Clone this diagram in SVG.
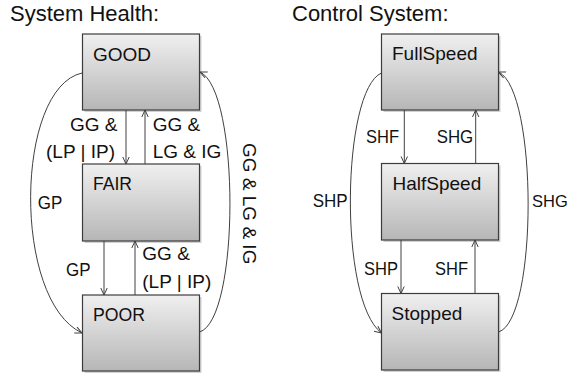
<svg xmlns="http://www.w3.org/2000/svg" width="570" height="377" viewBox="0 0 570 377">
<defs>
<linearGradient id="g" x1="0" y1="0" x2="0" y2="1">
<stop offset="0" stop-color="#f0f0f0"/>
<stop offset="1" stop-color="#b6b6b6"/>
</linearGradient>
<marker id="a" viewBox="0 0 8 8" refX="7.5" refY="4" markerWidth="8" markerHeight="8" markerUnits="userSpaceOnUse" orient="auto">
<path d="M0.5,0.8 L7.5,4 L0.5,7.2" fill="none" stroke="#404040" stroke-width="1"/>
</marker>
</defs>
<style>
text{font-family:"Liberation Sans",Arial,sans-serif;font-size:19px;fill:#111}
.t{font-size:22px}
.box{fill:url(#g);stroke:#3c3c3c;stroke-width:1.2}
.sh{fill:#000;opacity:0.18}
.c{fill:none;stroke:#404040;stroke-width:1;marker-end:url(#a)}
</style>
<rect width="570" height="377" fill="#fff"/>
<text class="t" x="10" y="20.5">System Health:</text>
<text class="t" x="292" y="20.5">Control System:</text>

<g id="GOOD"><rect class="sh" x="84.5" y="36" width="117" height="76"/><rect class="box" x="82.5" y="34" width="117" height="76"/><text x="93" y="60.5">GOOD</text></g>
<g id="FAIR"><rect class="sh" x="84.5" y="166" width="117" height="77"/><rect class="box" x="82.5" y="164" width="117" height="77"/><text x="93" y="190" textLength="39" lengthAdjust="spacingAndGlyphs">FAIR</text></g>
<g id="POOR"><rect class="sh" x="84.5" y="297" width="117" height="76"/><rect class="box" x="82.5" y="295" width="117" height="76"/><text x="93" y="320.5" textLength="52" lengthAdjust="spacingAndGlyphs">POOR</text></g>
<g id="FullSpeed"><rect class="sh" x="383.5" y="36" width="117" height="76"/><rect class="box" x="381.5" y="34" width="117" height="76"/><text x="392" y="60">FullSpeed</text></g>
<g id="HalfSpeed"><rect class="sh" x="383.5" y="165.5" width="117" height="76.5"/><rect class="box" x="381.5" y="163.5" width="117" height="76.5"/><text x="392.5" y="190">HalfSpeed</text></g>
<g id="Stopped"><rect class="sh" x="383.5" y="295.5" width="117" height="76.5"/><rect class="box" x="381.5" y="293.5" width="117" height="76.5"/><text x="391.5" y="320">Stopped</text></g>

<g id="connectors">
<path class="c" d="M126,110 V164"/>
<path class="c" d="M145,164 V110"/>
<path class="c" d="M104,241 V295"/>
<path class="c" d="M135,295 V241"/>
<path class="c" d="M82,73 C15,88 12,300 82,333"/>
<path class="c" d="M199.5,332 C240,320 240,90 200,72"/>
<path class="c" d="M404.3,110 V163.5"/>
<path class="c" d="M475.7,163.5 V110"/>
<path class="c" d="M401,240 V293.5"/>
<path class="c" d="M475,293.5 V240"/>
<path class="c" d="M381.5,73 C342,90 338,300 381.5,333"/>
<path class="c" d="M498.5,332 C538,320 538,90 498.5,72"/>
</g>

<g id="labels">
<text x="70" y="131">GG &amp;</text>
<text x="46" y="157.5">(LP | IP)</text>
<text x="152.7" y="131">GG &amp;</text>
<text x="152.7" y="157.5">LG &amp; IG</text>
<text transform="translate(243,143) rotate(90)">GG &amp; LG &amp; IG</text>
<text x="37.7" y="209" textLength="24.5" lengthAdjust="spacingAndGlyphs">GP</text>
<text x="66" y="275.5" textLength="24.5" lengthAdjust="spacingAndGlyphs">GP</text>
<text x="142.3" y="260">GG &amp;</text>
<text x="142.3" y="288">(LP | IP)</text>
<text x="366" y="142.7" textLength="33" lengthAdjust="spacingAndGlyphs">SHF</text>
<text x="436.7" y="142.7" textLength="36.5" lengthAdjust="spacingAndGlyphs">SHG</text>
<text x="312.7" y="206.7" textLength="35" lengthAdjust="spacingAndGlyphs">SHP</text>
<text x="532" y="206.7" style="font-size:16.5px">SHG</text>
<text x="364" y="275" textLength="34" lengthAdjust="spacingAndGlyphs">SHP</text>
<text x="435" y="275" textLength="33" lengthAdjust="spacingAndGlyphs">SHF</text>
</g>
</svg>
